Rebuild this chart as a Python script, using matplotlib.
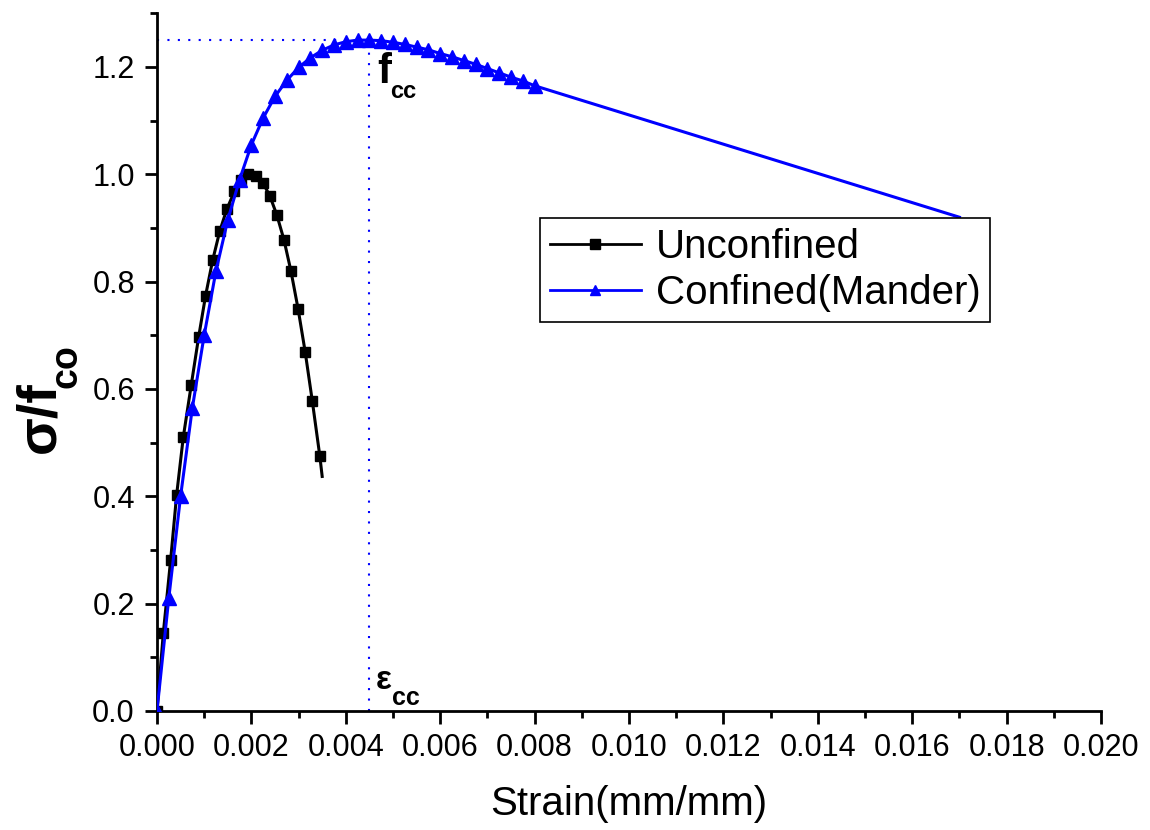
import matplotlib
matplotlib.use("Agg")
import matplotlib.pyplot as plt
from matplotlib.ticker import MultipleLocator, FormatStrFormatter
import numpy as np

plt.rcParams['font.family'] = ['Liberation Sans', 'DejaVu Sans']

# Unconfined concrete (marker points)
unc_strain = [0.0, 0.000134, 0.00029, 0.000417, 0.000557, 0.000727, 0.000883,
              0.00103, 0.00118, 0.00133, 0.00148, 0.00164, 0.00179, 0.00193,
              0.0021, 0.00225, 0.00239, 0.00254, 0.00269, 0.00284, 0.00299,
              0.00314, 0.00329, 0.00345]
unc_stress = [0.0, 0.145, 0.282, 0.403, 0.51, 0.608, 0.697,
              0.774, 0.840, 0.894, 0.935, 0.968, 0.989, 1.000,
              0.997, 0.983, 0.960, 0.924, 0.878, 0.819, 0.749,
              0.669, 0.578, 0.475]
unc_end_strain = 0.0035
unc_end_stress = 0.437

# Confined (Mander) concrete (marker points)
con_strain = [0.0, 0.00025, 0.0005, 0.00075, 0.001, 0.00125, 0.0015, 0.00175,
              0.002, 0.00225, 0.0025, 0.00275, 0.003, 0.00325, 0.0035, 0.00375,
              0.004, 0.00425, 0.0045, 0.00475, 0.005, 0.00525, 0.0055, 0.00575,
              0.006, 0.00625, 0.0065, 0.00675, 0.007, 0.00725, 0.0075, 0.00775,
              0.008]
con_stress = [0.0, 0.21, 0.40, 0.565, 0.70, 0.82, 0.915, 0.99,
              1.055, 1.105, 1.145, 1.175, 1.199, 1.217, 1.231, 1.241,
              1.247, 1.25, 1.25, 1.249, 1.246, 1.242, 1.237, 1.232,
              1.225, 1.219, 1.212, 1.205, 1.197, 1.189, 1.181, 1.174,
              1.165]
con_end_strain = 0.017
con_end_stress = 0.92

eps_cc = 0.0045
f_cc = 1.25

fig = plt.figure(figsize=(11.5, 8.3), dpi=100)
ax = fig.add_axes([0.1365, 0.1434, 0.8209, 0.8406])

ux = unc_strain + [unc_end_strain]
uy = unc_stress + [unc_end_stress]
cx = con_strain + [con_end_strain]
cy = con_stress + [con_end_stress]

ax.plot(ux, uy, color='black', lw=2.2, marker='s', markersize=7.5,
        markevery=list(range(len(unc_strain))), label='Unconfined', zorder=3)
ax.plot(cx, cy, color='#0000ff', lw=2.2, marker='^', markersize=10,
        markevery=list(range(len(con_strain))), label='Confined(Mander)', zorder=4)

ax.plot([0, eps_cc], [f_cc, f_cc], color='#0000ff', lw=1.5, ls=(0, (1, 4)), zorder=2)
ax.plot([eps_cc, eps_cc], [0, f_cc], color='#0000ff', lw=1.5, ls=(0, (1, 4)), zorder=2)

# f_cc annotation
ax.text(0.00466, 1.170, 'f', fontsize=30, fontweight='bold', color='black',
        ha='left', va='baseline')
ax.text(0.00494, 1.142, 'cc', fontsize=17, fontweight='bold', color='black',
        ha='left', va='baseline')
# eps_cc annotation
ax.text(0.00463, 0.041, 'ε', fontsize=24, fontweight='bold', color='black',
        ha='left', va='baseline')
ax.text(0.00497, 0.011, 'cc', fontsize=18, fontweight='bold', color='black',
        ha='left', va='baseline')

ax.set_xlim(0, 0.020)
ax.set_ylim(0, 1.3)
ax.xaxis.set_major_locator(MultipleLocator(0.002))
ax.xaxis.set_minor_locator(MultipleLocator(0.001))
ax.yaxis.set_major_locator(MultipleLocator(0.2))
ax.yaxis.set_minor_locator(MultipleLocator(0.1))
ax.xaxis.set_major_formatter(FormatStrFormatter('%.3f'))
ax.yaxis.set_major_formatter(FormatStrFormatter('%.1f'))

for s in ['top', 'right']:
    ax.spines[s].set_visible(False)
for s in ['left', 'bottom']:
    ax.spines[s].set_linewidth(2)

ax.tick_params(which='major', direction='out', length=9, width=2, labelsize=22, pad=7)
ax.tick_params(which='minor', direction='out', length=5, width=2)

ax.set_xlabel('Strain(mm/mm)', fontsize=29, labelpad=16)

# y label: "σ/f" with large subscript "co"
fig.text(54 / 1150, 1 - 453 / 830, 'σ/f', fontsize=40, fontweight='bold',
         rotation=90, rotation_mode='anchor', ha='left', va='baseline')
fig.text(76 / 1150, 1 - 388 / 830, 'co', fontsize=27, fontweight='bold',
         rotation=90, rotation_mode='anchor', ha='left', va='baseline')

leg = ax.legend(loc='upper left', bbox_to_anchor=(0.4057, 0.7066), fontsize=29,
                frameon=True, fancybox=False, edgecolor='black', framealpha=1,
                handlelength=2.25, borderpad=0.25, labelspacing=0.2,
                handletextpad=0.37, borderaxespad=0)
leg.get_frame().set_linewidth(1.2)
for h in leg.legend_handles:
    h.set_markersize(7)
    h.set_linewidth(2)

fig.savefig('out.png', dpi=100)
